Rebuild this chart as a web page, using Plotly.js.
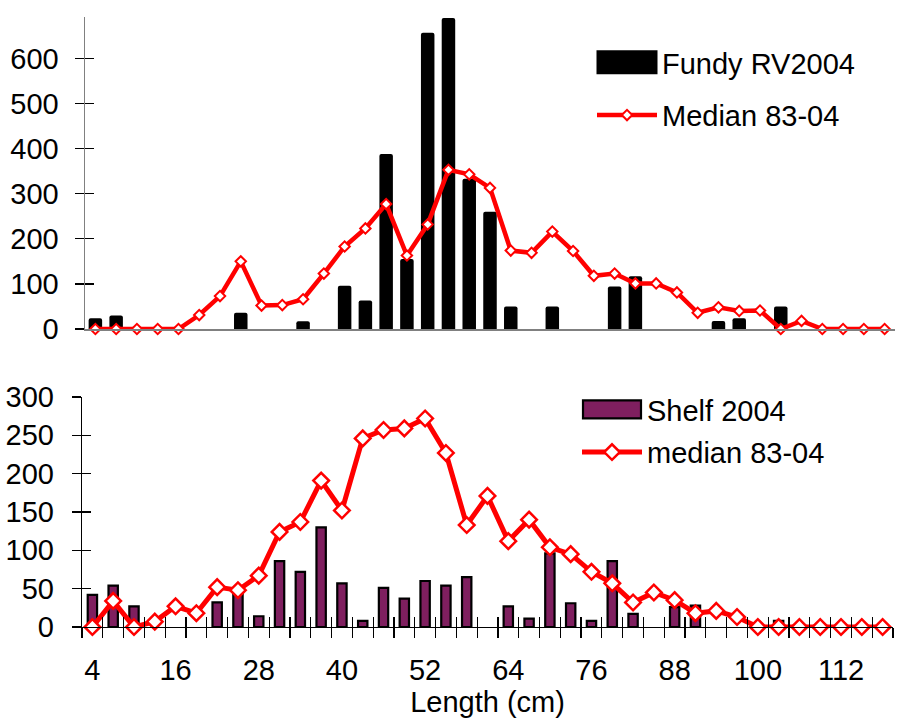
<!DOCTYPE html>
<html>
<head>
<meta charset="utf-8">
<script src="https://cdn.plot.ly/plotly-3.0.1.min.js"></script>
<style>html,body{margin:0;padding:0;background:#fff;} #chart{width:898px;height:719px;}</style>
</head>
<body>
<div id="chart"></div>
<script>
// Length classes (cm)
const lengths = [4,7,10,13,16,19,22,25,28,31,34,37,40,43,46,49,52,55,58,61,64,67,70,73,76,79,82,85,88,91,94,97,100,103,106,109,112,115,118];
// Labelled length classes on the x axis
const xTickLabels = [4,16,28,40,52,64,76,88,100,112];

// Top panel: Bay of Fundy RV survey 2004 and median 1983-2004
const fundy2004 = [24,30,0,0,0,0,0,36,0,0,17,0,96,63,388,155,657,690,333,260,50,0,50,0,0,94,117,0,0,0,18,24,0,50,0,0,0,0,0];
const fundyMedian = [0,0,0,0,0,31,73,150,52,53,66,123,183,223,277,163,232,353,343,313,174,169,216,173,118,123,101,101,81,36,48,40,41,0,18,0,0,0,0];

// Bottom panel: Shelf survey 2004 and median 1983-2004
const shelf2004 = [42,54,27,0,0,0,32,46,14,86,72,130,57,8,51,37,60,54,65,0,27,11,96,31,8,86,17,0,26,28,0,0,0,8,0,0,0,0,0];
const shelfMedian = [0,34,0,7,27,18,52,48,67,124,137,191,152,246,257,259,272,227,133,171,112,140,104,95,72,57,32,45,35,18,21,13,0,0,0,0,0,0,0];

const FONT = 'Liberation Sans, Arial, sans-serif';
const RED = '#ff0000';
const cats = lengths.map(String);
const xr = [-0.5, cats.length - 0.5];
const catText = lengths.map(v => xTickLabels.includes(v) ? String(v) : '');
const noZero = arr => arr.map(v => (v === 0 ? null : v));

const traces = [
  {type:'bar', x:cats, y:noZero(fundy2004), xaxis:'x', yaxis:'y', name:'Fundy RV2004',
   width:0.65, marker:{color:'#000000', cornerradius:2, line:{width:0}}, legend:'legend', legendgroup:'a'},
  {type:'scatter', mode:'lines+markers', x:cats, y:fundyMedian, xaxis:'x', yaxis:'y3', name:'Median 83-04',
   line:{color:RED, width:4.5}, marker:{symbol:'diamond', size:8, color:'#ffffff', line:{color:RED, width:2}},
   legend:'legend', legendgroup:'b', cliponaxis:false},
  {type:'bar', x:cats, y:noZero(shelf2004), xaxis:'x2', yaxis:'y2', name:'Shelf 2004',
   width:0.45, marker:{color:'#7f1f5f', line:{color:'#000000', width:2.2}}, legend:'legend2', legendgroup:'c'},
  {type:'scatter', mode:'lines+markers', x:cats, y:shelfMedian, xaxis:'x3', yaxis:'y4', name:'median 83-04',
   line:{color:RED, width:5}, marker:{symbol:'diamond', size:12, color:'#ffffff', line:{color:RED, width:2.5}},
   legend:'legend2', legendgroup:'d', cliponaxis:false}
];

const catAxis = {type:'category', categoryorder:'array', categoryarray:cats, range:xr,
                 showgrid:false, zeroline:false};

const layout = {
  width:898, height:719,
  margin:{l:0, r:0, t:0, b:0},
  paper_bgcolor:'#ffffff', plot_bgcolor:'#ffffff',
  font:{family:FONT, size:29, color:'#000'},
  barmode:'overlay',
  showlegend:true,
  xaxis:Object.assign({}, catAxis, {domain:[85/898, 895/898], anchor:'y',
         showline:true, linecolor:'#808080', linewidth:1.5, ticks:'', showticklabels:false}),
  yaxis:{domain:[1-329/719, 1-17/719], anchor:'x', range:[0,692], showgrid:false, zeroline:false,
         showline:true, linecolor:'#808080', linewidth:1.5, tickmode:'linear', tick0:0, dtick:100,
         ticks:'outside', ticklen:9, tickcolor:'#000', tickwidth:1.2, ticklabelstandoff:10,
         tickfont:{family:FONT, size:29}},
  yaxis3:{overlaying:'y', anchor:'x', range:[0,692], showgrid:false, zeroline:false, showline:false,
          tickmode:'linear', tick0:0, dtick:100, ticks:'inside', ticklen:9, tickcolor:'#000', tickwidth:1.2,
          showticklabels:false},
  // bottom x axis: outward tick marks at class boundaries, labels at class centres
  xaxis2:Object.assign({}, catAxis, {domain:[82/898, 893/898], anchor:'y2',
          showline:true, linecolor:'#000', linewidth:1.2, tickmode:'array', tickvals:cats, ticktext:catText,
          tickson:'boundaries', ticks:'outside', ticklen:10, tickcolor:'#000', tickwidth:1.2,
          tickangle:0, ticklabelstandoff:17, tickfont:{family:FONT, size:29},
          title:{text:'Length (cm)', font:{family:FONT, size:29}, standoff:2}}),
  // inward halves of the crossing tick marks
  xaxis3:Object.assign({}, catAxis, {overlaying:'x2', anchor:'y2', showline:false,
          tickmode:'array', tickvals:cats, ticktext:catText, tickson:'boundaries', tickangle:0,
          ticks:'inside', ticklen:10, tickcolor:'#000', tickwidth:1.2, showticklabels:false}),
  yaxis2:{domain:[1-627/719, 1-397/719], anchor:'x2', range:[0,300], showgrid:false, zeroline:false,
          showline:true, linecolor:'#000', linewidth:1.2, tickmode:'linear', tick0:0, dtick:50,
          ticks:'outside', ticklen:9, tickcolor:'#000', tickwidth:1.2, ticklabelstandoff:12,
          tickfont:{family:FONT, size:29}},
  yaxis4:{overlaying:'y2', anchor:'x2', range:[0,300], showgrid:false, zeroline:false, showline:false,
          tickmode:'linear', tick0:0, dtick:50, ticks:'inside', ticklen:9, tickcolor:'#000', tickwidth:1.2,
          showticklabels:false},
  legend:{x:592/898, y:1-37/719, xanchor:'left', yanchor:'top', bgcolor:'rgba(0,0,0,0)',
          font:{family:FONT, size:29}, itemwidth:60, tracegroupgap:12, traceorder:'grouped'},
  legend2:{x:577/898, y:1-384/719, xanchor:'left', yanchor:'top', bgcolor:'rgba(0,0,0,0)',
          font:{family:FONT, size:29}, itemwidth:60, tracegroupgap:2, traceorder:'grouped'}
};

Plotly.newPlot('chart', traces, layout, {displayModeBar:false, staticPlot:true}).then(function(gd){
  // widen the bar swatches in the legends to match the original's long rectangles
  gd.querySelectorAll('g.traces').forEach(function(t){
    const d = t.__data__ && t.__data__[0] && t.__data__[0].trace;
    if(!d || d.type !== 'bar') return;
    t.querySelectorAll('.legendpoints path').forEach(function(p){
      const dd = p.getAttribute('d') || '';
      if(dd.indexOf('V') >= 0){
        if(d.xaxis === 'x') p.setAttribute('d', 'M30.5,12H-30.5V-12H30.5Z');
        else p.setAttribute('d', 'M29,9H-29V-9H29Z');
      }
    });
  });
});
</script>
</body>
</html>
